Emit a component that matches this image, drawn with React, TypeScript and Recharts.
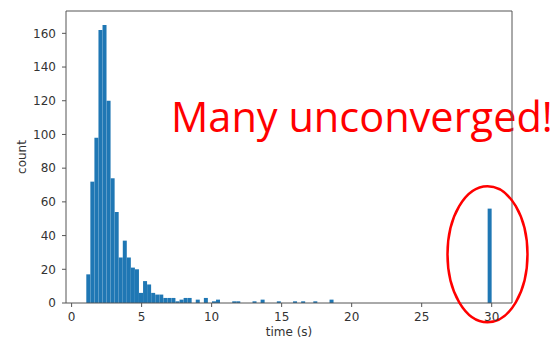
import { Bar, BarChart, ReferenceDot, ReferenceLine, XAxis, YAxis } from "recharts";

// histogram bins: 100 bins from 1.05 s to 30 s
const binStart = 1.05;
const binWidth = 0.2895;
const counts = [
  17, 72, 98, 162, 165, 120, 74, 54, 27, 37,
  27, 21, 20, 6, 13, 11, 6, 5, 5, 3,
  3, 3, 1, 2, 3, 3, 0, 2, 0, 3,
  0, 1, 2, 0, 0, 0, 1, 1, 0, 0,
  0, 1, 0, 2, 0, 0, 0, 1, 0, 0,
  0, 1, 0, 1, 0, 0, 1, 0, 0, 0,
  2, 0, 0, 0, 0, 0, 0, 0, 0, 0,
  0, 0, 0, 0, 0, 0, 0, 0, 0, 0,
  0, 0, 0, 0, 0, 0, 0, 0, 0, 0,
  0, 0, 0, 0, 0, 0, 0, 0, 0, 56,
];
const xTicks = [0, 5, 10, 15, 20, 25, 30];
const yTicks = [0, 20, 40, 60, 80, 100, 120, 140, 160];
const xDomain = [-0.4, 31.45];
const yDomain = [0, 173.25];
const note = "Many unconverged!";
const circled = { time: 29.7, count: 28.9 };

const data = counts.map((count, i) => ({ time: binStart + binWidth * (i + 0.5), count }));

const axisColor = "#555";
const textColor = "#333";
const font = "'DejaVu Sans', sans-serif";

export default function App() {
  return (
    <div style={{ position: "relative", width: 559, height: 338, fontFamily: font }}>
      <style>{`body{margin:0}`}</style>
      <svg width={559} height={338} style={{ position: "absolute", left: 0, top: 0 }}>
        <text x={171} y={132} fill="#ff0000" fontSize={41.5} fontFamily="'Open Sans', sans-serif">
          {note}
        </text>
      </svg>
      <BarChart
        width={559}
        height={338}
        data={data}
        margin={{ top: 11, right: 47, bottom: 0, left: 0 }}
        barCategoryGap={0}
        barGap={0}
        style={{ position: "relative" }}
      >
        <XAxis
          dataKey="time"
          type="number"
          domain={xDomain}
          ticks={xTicks}
          allowDataOverflow
          height={35}
          stroke={axisColor}
          tickSize={4}
          tickMargin={5}
          tick={{ fontSize: 12, fill: textColor, fontFamily: font }}
          label={{ value: "time (s)", position: "insideBottom", offset: 2.5, fontSize: 12, fill: textColor, fontFamily: font }}
        />
        <YAxis
          type="number"
          domain={yDomain}
          ticks={yTicks}
          allowDataOverflow
          width={66}
          stroke={axisColor}
          tickSize={4}
          tickMargin={6}
          tick={{ fontSize: 12, fill: textColor, fontFamily: font }}
          label={{ value: "count", angle: -90, position: "insideLeft", offset: 22, textAnchor: "middle", fontSize: 12, fill: textColor, fontFamily: font }}
        />
        {/* top and right spines */}
        <ReferenceLine y={yDomain[1]} stroke={axisColor} ifOverflow="visible" />
        <ReferenceLine x={xDomain[1]} stroke={axisColor} ifOverflow="visible" />
        <Bar dataKey="count" fill="#1f77b4" isAnimationActive={false} />
        <ReferenceDot
          x={circled.time}
          y={circled.count}
          ifOverflow="visible"
          shape={(p: any) => <ellipse cx={p.cx} cy={p.cy} rx={40} ry={68} fill="none" stroke="#ff0000" strokeWidth={2.5} />}
        />
      </BarChart>
    </div>
  );
}
